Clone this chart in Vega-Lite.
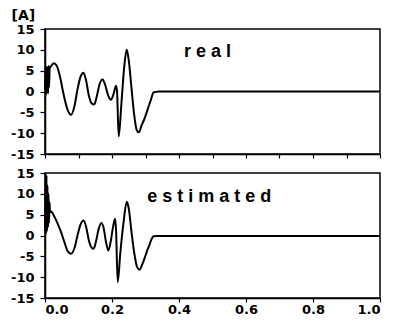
{
  "$schema": "https://vega.github.io/schema/vega-lite/v6.json",
  "autosize": {"type": "pad"},
  "padding": {"left": 9, "top": 7, "right": 5, "bottom": 2},
  "background": "white",
  "datasets": {
    "real": [
      {"t": 0.0, "a": 0.5}, {"t": 0.002, "a": 5.5}, {"t": 0.003, "a": -0.8}, {"t": 0.005, "a": 6.0},
      {"t": 0.006, "a": 0.0}, {"t": 0.008, "a": 5.8}, {"t": 0.009, "a": -0.5}, {"t": 0.011, "a": 6.2},
      {"t": 0.012, "a": 1.0}, {"t": 0.014, "a": 5.5}, {"t": 0.02, "a": 6.3}, {"t": 0.026, "a": 6.8},
      {"t": 0.035, "a": 6.2}, {"t": 0.045, "a": 3.5}, {"t": 0.055, "a": -0.5}, {"t": 0.065, "a": -3.8},
      {"t": 0.078, "a": -5.6}, {"t": 0.088, "a": -3.5}, {"t": 0.097, "a": 0.5}, {"t": 0.106, "a": 3.5},
      {"t": 0.115, "a": 4.5}, {"t": 0.123, "a": 2.5}, {"t": 0.131, "a": -1.0}, {"t": 0.139, "a": -2.8},
      {"t": 0.147, "a": -3.1}, {"t": 0.155, "a": -1.0}, {"t": 0.163, "a": 1.8}, {"t": 0.172, "a": 2.9},
      {"t": 0.18, "a": 1.5}, {"t": 0.188, "a": -0.8}, {"t": 0.197, "a": -2.0}, {"t": 0.205, "a": -0.5},
      {"t": 0.212, "a": 1.4}, {"t": 0.215, "a": 0.0}, {"t": 0.22, "a": -10.8}, {"t": 0.228, "a": -3.0},
      {"t": 0.236, "a": 5.5}, {"t": 0.244, "a": 10.0}, {"t": 0.25, "a": 7.5}, {"t": 0.258, "a": 1.0},
      {"t": 0.266, "a": -5.5}, {"t": 0.274, "a": -9.3}, {"t": 0.28, "a": -9.8}, {"t": 0.288, "a": -8.2},
      {"t": 0.297, "a": -6.5}, {"t": 0.306, "a": -4.4}, {"t": 0.316, "a": -2.0}, {"t": 0.324, "a": -0.2},
      {"t": 0.33, "a": -0.1}, {"t": 0.34, "a": 0.0}, {"t": 1.0, "a": 0.0}
    ],
    "est": [
      {"t": 0.0, "a": 1.0}, {"t": 0.0015, "a": 13.0}, {"t": 0.003, "a": 0.5}, {"t": 0.0045, "a": 14.5},
      {"t": 0.006, "a": 1.0}, {"t": 0.0075, "a": 12.0}, {"t": 0.009, "a": 2.0}, {"t": 0.0105, "a": 10.0},
      {"t": 0.012, "a": 3.0}, {"t": 0.0135, "a": 8.0}, {"t": 0.015, "a": 5.5}, {"t": 0.018, "a": 5.8},
      {"t": 0.025, "a": 5.0}, {"t": 0.038, "a": 2.8}, {"t": 0.048, "a": 0.8}, {"t": 0.058, "a": -1.6},
      {"t": 0.068, "a": -3.8}, {"t": 0.078, "a": -4.4}, {"t": 0.088, "a": -3.0}, {"t": 0.097, "a": 0.0},
      {"t": 0.106, "a": 2.6}, {"t": 0.115, "a": 3.6}, {"t": 0.123, "a": 2.0}, {"t": 0.131, "a": -1.2},
      {"t": 0.139, "a": -2.9}, {"t": 0.145, "a": -3.2}, {"t": 0.152, "a": -1.5}, {"t": 0.16, "a": 1.5},
      {"t": 0.168, "a": 3.0}, {"t": 0.175, "a": 1.8}, {"t": 0.182, "a": -1.5}, {"t": 0.189, "a": -3.6},
      {"t": 0.196, "a": -1.5}, {"t": 0.203, "a": 2.0}, {"t": 0.209, "a": 4.0}, {"t": 0.212, "a": 1.5},
      {"t": 0.217, "a": -11.2}, {"t": 0.225, "a": -4.0}, {"t": 0.235, "a": 3.5}, {"t": 0.244, "a": 8.1},
      {"t": 0.25, "a": 6.5}, {"t": 0.258, "a": 1.0}, {"t": 0.267, "a": -4.5}, {"t": 0.275, "a": -7.6},
      {"t": 0.282, "a": -8.2}, {"t": 0.29, "a": -7.0}, {"t": 0.3, "a": -4.8}, {"t": 0.306, "a": -3.4},
      {"t": 0.313, "a": -2.0}, {"t": 0.318, "a": -0.9}, {"t": 0.324, "a": -0.2}, {"t": 0.335, "a": -0.1},
      {"t": 1.0, "a": -0.1}
    ],
    "labels": [
      {"panel": "real", "t": 0.485, "a": 9.5, "txt": "r e a l"},
      {"panel": "est", "t": 0.49, "a": 9.2, "txt": "e s t i m a t e d"}
    ]
  },
  "config": {
    "view": {"stroke": "black", "strokeWidth": 1.5},
    "font": "DejaVu Sans",
    "axis": {
      "domainColor": "black", "domainWidth": 1.5, "tickColor": "black", "tickWidth": 1.2,
      "grid": false, "labelColor": "black", "labelFont": "DejaVu Sans", "labelFontWeight": "bold",
      "labelOverlap": false, "labelSeparation": 0
    }
  },
  "spacing": 4,
  "vconcat": [
    {
      "width": 335, "height": 125,
      "encoding": {
        "x": {"field": "t", "type": "quantitative", "scale": {"domain": [0, 1], "nice": false},
          "axis": {"labels": false, "title": null, "values": [0, 0.1, 0.2, 0.3, 0.4, 0.5, 0.6, 0.7, 0.8, 0.9, 1.0], "tickSize": 4}},
        "y": {"field": "a", "type": "quantitative", "scale": {"domain": [-15, 15], "nice": false},
          "axis": {"values": [-15, -10, -5, 0, 5, 10, 15],
            "labelExpr": "datum.value < 0 ? '-' + abs(datum.value) : '' + datum.value",
            "labelOverlap": false, "tickSize": 5,
            "labelFontSize": 13, "labelPadding": 6,
            "title": "[A]", "titleAngle": 0, "titleAlign": "left", "titleBaseline": "bottom",
            "titleX": -34, "titleY": -7, "titleFont": "DejaVu Sans", "titleFontSize": 14, "titleFontWeight": "bold", "titleColor": "black"}}
      },
      "layer": [
        {
          "data": {"name": "real"},
          "mark": {"type": "line", "color": "black", "strokeWidth": 2, "interpolate": "monotone"}
        },
        {
          "data": {"name": "labels"},
          "transform": [{"filter": "datum.panel == 'real'"}],
          "mark": {"type": "text", "font": "Liberation Sans", "fontSize": 18, "fontWeight": "bold", "color": "black", "align": "center", "baseline": "middle"},
          "encoding": {"text": {"field": "txt"}}
        }
      ]
    },
    {
      "width": 335, "height": 125,
      "encoding": {
        "x": {"field": "t", "type": "quantitative", "scale": {"domain": [0, 1], "nice": false},
          "axis": {"title": null, "values": [0, 0.2, 0.4, 0.6, 0.8, 1.0], "format": ".1f",
            "labelFontSize": 13, "labelPadding": 1, "tickSize": 4}},
        "y": {"field": "a", "type": "quantitative", "scale": {"domain": [-15, 15], "nice": false},
          "axis": {"values": [-15, -10, -5, 0, 5, 10, 15],
            "labelExpr": "datum.value < 0 ? '-' + abs(datum.value) : '' + datum.value",
            "labelOverlap": false, "tickSize": 5,
            "labelFontSize": 13, "labelPadding": 6, "title": null}}
      },
      "layer": [
        {
          "data": {"name": "est"},
          "mark": {"type": "line", "color": "black", "strokeWidth": 2, "interpolate": "monotone"}
        },
        {
          "data": {"name": "labels"},
          "transform": [{"filter": "datum.panel == 'est'"}],
          "mark": {"type": "text", "font": "Liberation Sans", "fontSize": 18, "fontWeight": "bold", "color": "black", "align": "center", "baseline": "middle"},
          "encoding": {"text": {"field": "txt"}}
        }
      ]
    }
  ]
}
